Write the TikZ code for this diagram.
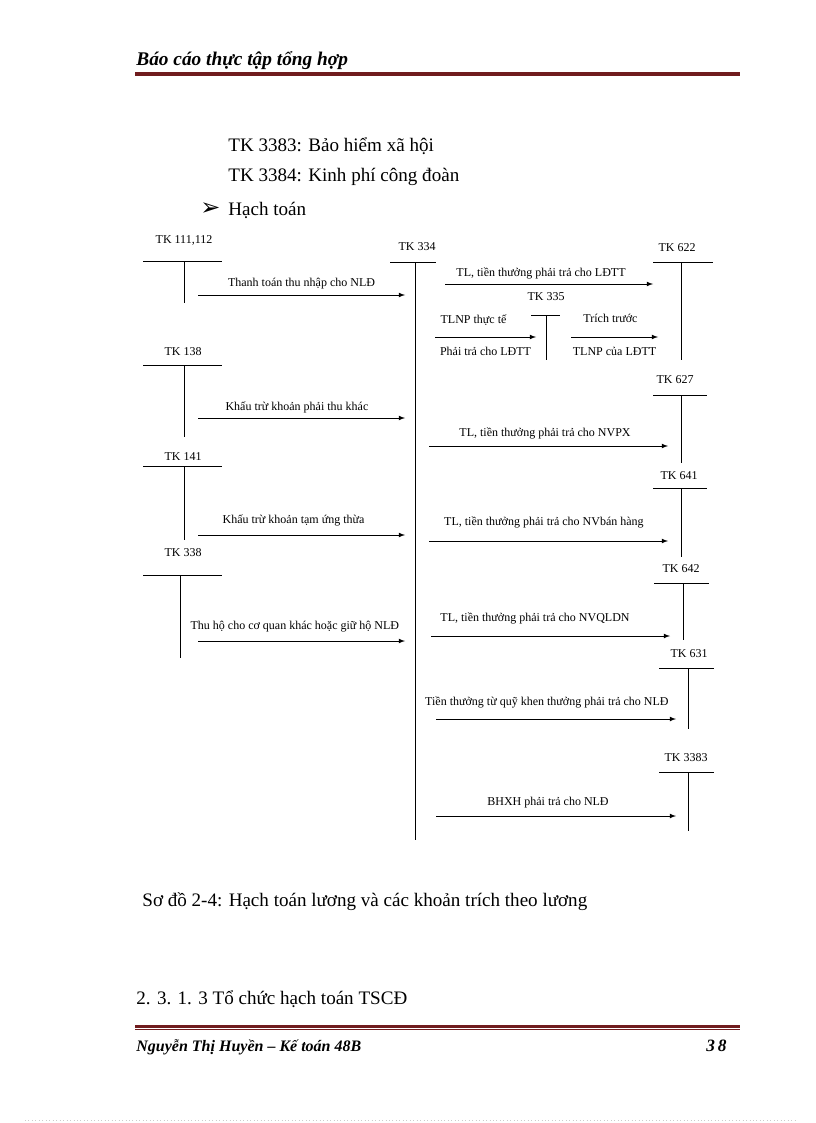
\documentclass[tikz,border=0pt]{standalone}
\usepackage{fontspec}
\setmainfont{Liberation Serif}
\newfontfamily\dingfont{DejaVu Sans}
\usepackage{xcolor}
\usetikzlibrary{positioning}
\definecolor{rulered}{RGB}{112,28,30}

\begin{document}
\begin{tikzpicture}[x=0.75pt, y=-0.75pt, >=latex, line width=0.6pt,
    every node/.style={font=\fontsize{9}{10}\selectfont},
    lbl/.style={inner sep=0pt, anchor=base},
    body/.style={font=\fontsize{14.3}{16}\selectfont, inner sep=0pt, anchor=base west},
    head/.style={font=\fontsize{14.5}{16}\selectfont\bfseries\itshape, inner sep=0pt, anchor=base west}]
    \useasboundingbox[fill=white] (0,0) rectangle (816,1123);

    % page header and footer
    \node[head] (header) at (136,66) {Báo cáo thực tập tổng hợp};
    \draw[rulered, line width=0.5pt] (135,72) -- (740,72);
    \fill[rulered] (135,73.5) rectangle (740,76.5);
    \fill[rulered] (135,1025) rectangle (740,1028);
    \draw[rulered, line width=0.5pt] (135,1029.5) -- (740,1029.5);
    \node[head, font=\fontsize{12}{14}\selectfont\bfseries\itshape] (author) at (136,1051) {Nguyễn Thị Huyền – Kế toán 48B};
    \node[head, font=\fontsize{13}{15}\selectfont\bfseries\itshape, anchor=base east] (page) at (727,1051) {3\,8};
    \draw[gray!40, dotted] (25,1120) -- (795,1120);

    % text
    \node[body] (tk3383txt) at (228,152) {TK 3383: Bảo hiểm xã hội};
    \node[body] (tk3384txt) at (228,182) {TK 3384: Kinh phí công đoàn};
    \node[body, font=\dingfont\fontsize{18}{18}\selectfont] (bullet) at (200,216) {➢};
    \node[body] (hachtoan) at (228,215) {Hạch toán};
    \node[body] (caption) at (142,906) {Sơ đồ 2-4: Hạch toán lương và các khoản trích theo lương};
    \node[body] (section) at (136,1004) {2. 3. 1. 3 Tổ chức hạch toán TSCĐ};

    % accounts
    \node (tk111) at (184,240) {TK 111,112};
    \draw (143,261) -- (222,261) (184,261) -- (184,303);
    \node (tk138) at (183,352) {TK 138};
    \draw (143,365) -- (222,365) (184,365) -- (184,437);
    \node (tk141) at (183,457) {TK 141};
    \draw (143,466) -- (222,466) (184,466) -- (184,540);
    \node (tk338) at (183,553) {TK 338};
    \draw (143,575) -- (222,575) (180,575) -- (180,658);
    \node (tk334) at (417,247) {TK 334};
    \draw (390,262) -- (436,262) (415,262) -- (415,840);
    \node (tk622) at (677,248) {TK 622};
    \draw (653,262) -- (713,262) (681,262) -- (681,360);
    \node (tk335) at (546,297) {TK 335};
    \draw (531,315) -- (560,315) (546,315) -- (546,360);
    \node (tk627) at (675,380) {TK 627};
    \draw (653,395) -- (707,395) (681,395) -- (681,463);
    \node (tk641) at (679,476) {TK 641};
    \draw (653,488) -- (707,488) (681,488) -- (681,557);
    \node (tk642) at (681,569) {TK 642};
    \draw (654,583) -- (709,583) (683,583) -- (683,640);
    \node (tk631) at (689,654) {TK 631};
    \draw (659,668) -- (714,668) (688,668) -- (688,729);
    \node (tk3383) at (686,758) {TK 3383};
    \draw (659,772) -- (714,772) (688,772) -- (688,831);

    % entries into TK 334
    \coordinate (a1s) at (198,295); \coordinate (a1e) at (405,295);
    \coordinate (a2s) at (198,418); \coordinate (a2e) at (405,418);
    \coordinate (a3s) at (198,535); \coordinate (a3e) at (405,535);
    \coordinate (a4s) at (198,641); \coordinate (a4e) at (405,641);
    \draw[->] (a1s) -- node[lbl, yshift=6.3pt] {Thanh toán thu nhập cho NLĐ} (a1e);
    \draw[->] (a2s) -- node[lbl, xshift=-3.4pt, yshift=5.5pt] {Khấu trừ khoản phải thu khác} (a2e);
    \draw[->] (a3s) -- node[lbl, xshift=-6pt, yshift=8.5pt] {Khấu trừ khoản tạm ứng thừa} (a3e);
    \draw[->] (a4s) -- node[lbl, xshift=-5pt, yshift=8.5pt] {Thu hộ cho cơ quan khác hoặc giữ hộ NLĐ} (a4e);

    % entries out of TK 334
    \coordinate (b1s) at (445,284); \coordinate (b1e) at (653,284);
    \coordinate (b2s) at (435,337); \coordinate (b2e) at (536,337);
    \coordinate (b3s) at (571,337); \coordinate (b3e) at (658,337);
    \coordinate (b4s) at (429,446); \coordinate (b4e) at (668,446);
    \coordinate (b5s) at (429,541); \coordinate (b5e) at (668,541);
    \coordinate (b6s) at (431,636); \coordinate (b6e) at (670,636);
    \coordinate (b7s) at (436,719); \coordinate (b7e) at (676,719);
    \coordinate (b8s) at (436,816); \coordinate (b8e) at (676,816);
    \draw[->] (b1s) -- node[lbl, xshift=-6pt, yshift=5.5pt] {TL, tiền thưởng phải trả cho LĐTT} (b1e);
    \draw[->] (b2s) -- node[lbl, xshift=-9pt, yshift=10pt] {TLNP thực tế}
        node[lbl, yshift=-14pt] {Phải trả cho LĐTT} (b2e);
    \draw[->] (b3s) -- node[lbl, xshift=-3pt, yshift=10.8pt] {Trích trước}
        node[lbl, yshift=-14pt] {TLNP của LĐTT} (b3e);
    \draw[->] (b4s) -- node[lbl, xshift=-2.6pt, yshift=7pt] {TL, tiền thưởng phải trả cho NVPX} (b4e);
    \draw[->] (b5s) -- node[lbl, xshift=-3.4pt, yshift=11.5pt] {TL, tiền thưởng phải trả cho NVbán hàng} (b5e);
    \draw[->] (b6s) -- node[lbl, xshift=-11.6pt, yshift=10.8pt] {TL, tiền thưởng phải trả cho NVQLDN} (b6e);
    \draw[->] (b7s) -- node[lbl, xshift=-6.8pt, yshift=10pt] {Tiền thưởng từ quỹ khen thưởng phải trả cho NLĐ} (b7e);
    \draw[->] (b8s) -- node[lbl, xshift=-6pt, yshift=7.8pt] {BHXH phải trả cho NLĐ} (b8e);
\end{tikzpicture}
\end{document}
